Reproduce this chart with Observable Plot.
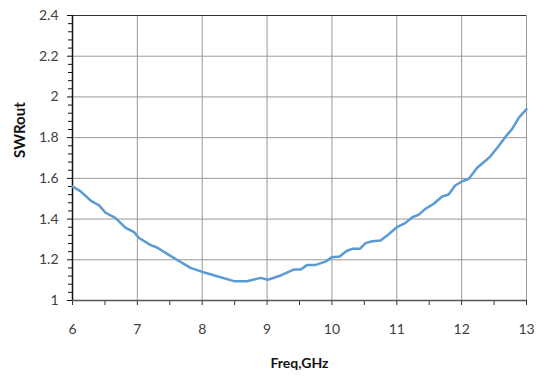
<!DOCTYPE html>
<html><head><meta charset="utf-8">
<script src="https://cdn.jsdelivr.net/npm/d3@7"></script>
<script src="https://cdn.jsdelivr.net/npm/@observablehq/plot@0.6"></script>
<style>body{margin:0;background:#fff}</style>
</head><body><div id="chart"></div>
<script>
const freq = [6, 6.12, 6.28, 6.41, 6.51, 6.66, 6.82, 6.95, 7.02, 7.2, 7.31, 7.46, 7.61, 7.82, 8.02, 8.23, 8.49, 8.69, 8.9, 9.01, 9.21, 9.41, 9.52, 9.62, 9.75, 9.9, 10.0, 10.12, 10.22, 10.31, 10.43, 10.52, 10.62, 10.75, 10.88, 11.0, 11.13, 11.24, 11.34, 11.44, 11.57, 11.7, 11.8, 11.9, 12.01, 12.11, 12.24, 12.34, 12.44, 12.55, 12.68, 12.78, 12.88, 13];
const swr = [1.56, 1.537, 1.491, 1.467, 1.431, 1.406, 1.357, 1.336, 1.308, 1.273, 1.259, 1.229, 1.2, 1.16, 1.139, 1.119, 1.095, 1.095, 1.111, 1.102, 1.123, 1.152, 1.152, 1.175, 1.175, 1.191, 1.213, 1.216, 1.242, 1.254, 1.254, 1.282, 1.291, 1.295, 1.327, 1.36, 1.38, 1.409, 1.422, 1.45, 1.475, 1.511, 1.521, 1.565, 1.586, 1.598, 1.652, 1.679, 1.707, 1.75, 1.806, 1.843, 1.897, 1.94];
const xTicks = [6, 7, 8, 9, 10, 11, 12, 13];
const xMinor = [6.5, 7.5, 8.5, 9.5, 10.5, 11.5, 12.5];
const yTicks = [1, 1.2, 1.4, 1.6, 1.8, 2, 2.2, 2.4];
const yMinor = d3.range(0, 36).map(i => 1 + i * 0.04).filter((v, i) => i % 5 !== 0);
const xTitle = "Freq,GHz";
const yTitle = "SWRout";

const data = freq.map((f, i) => ({f, v: swr[i]}));
const fmt = d => String(+d.toFixed(1));

const chart = Plot.plot({
  width: 544, height: 383,
  marginLeft: 72, marginRight: 18, marginTop: 15, marginBottom: 83,
  style: {fontFamily: "Lato, 'Open Sans', sans-serif", fontSize: "14px", color: "#404040", background: "#fff"},
  x: {domain: [6, 13], label: null},
  y: {domain: [1, 2.4], label: null},
  marks: [
    Plot.gridX(xTicks, {stroke: "#999", strokeOpacity: 1}),
    Plot.gridY(yTicks, {stroke: "#999", strokeOpacity: 1}),
    Plot.ruleY([2.4], {stroke: "#333"}),
    Plot.axisX(xMinor, {tickSize: 5, tickFormat: () => "", stroke: "#333", label: null}),
    Plot.axisX(xTicks, {tickSize: 5, tickPadding: 19, tickFormat: fmt, stroke: "#333", label: null}),
    Plot.axisY(yMinor, {tickSize: 4, tickFormat: () => "", stroke: "#111", label: null}),
    Plot.axisY(yTicks, {tickSize: 5, tickPadding: 9, tickFormat: fmt, stroke: "#111", label: null}),
    Plot.ruleX([6], {stroke: "#111", strokeWidth: 1.5}),
    Plot.ruleY([1], {stroke: "#555", strokeWidth: 1.5}),
    Plot.line(data, {x: "f", y: "v", stroke: "#5b9bd5", strokeWidth: 2.5, curve: "linear"}),
    Plot.text([xTitle], {frameAnchor: "bottom", dy: 67, fontWeight: "bold", fontSize: 14, fill: "#111"}),
    Plot.text([yTitle], {frameAnchor: "left", dx: -52, rotate: -90, fontWeight: "bold", fontSize: 15, fill: "#111"})
  ]
});
document.getElementById("chart").appendChild(chart);
</script>
</body></html>
